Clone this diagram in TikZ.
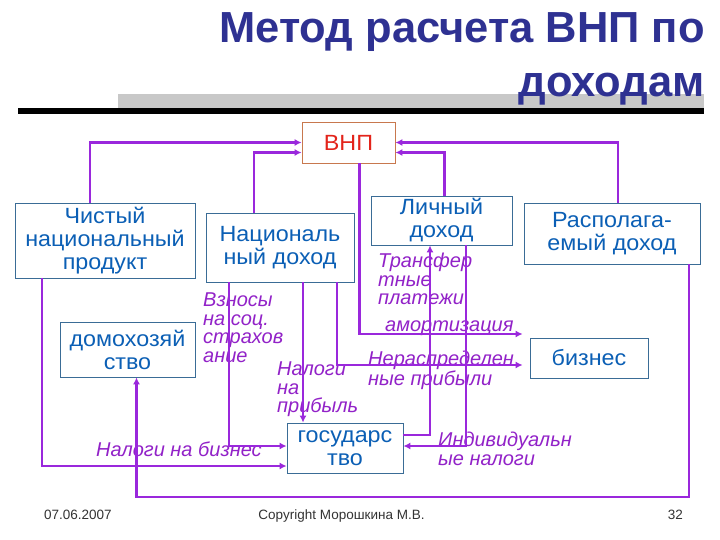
\documentclass[tikz,border=0pt]{standalone}
\usepackage{fontspec}
\setmainfont{Liberation Sans}
\newfontfamily\boxfont[FakeStretch=1.06]{Liberation Sans}
\usetikzlibrary{arrows.meta,calc,positioning}
\definecolor{navy}{HTML}{2E3192}
\definecolor{boxline}{HTML}{3A6C96}
\definecolor{boxtext}{HTML}{0B5FB5}
\definecolor{lilac}{HTML}{9A28DC}
\definecolor{lilacdark}{HTML}{9222C8}
\definecolor{gnpred}{HTML}{E3241B}
\definecolor{gnpline}{HTML}{C8784E}
\definecolor{bargrey}{HTML}{C8C8C8}
\definecolor{footgrey}{HTML}{333333}

\begin{document}
\begin{tikzpicture}[x=1pt,y=-1pt,>={Latex[length=7pt,width=7pt]},
  box/.style={draw=boxline,line width=0.8pt,fill=white,text=boxtext,align=center,inner sep=0pt,font=\boxfont\fontsize{22}{23}\selectfont},
  link/.style={lilac,line width=2.7pt},
  note/.style={text=lilacdark,align=left,inner sep=0pt,font=\fontsize{20}{18.5}\selectfont\itshape},
  foot/.style={text=footgrey,inner sep=0pt,font=\fontsize{13.5}{15}\selectfont}]
\path[fill=white,use as bounding box] (0,0) rectangle (720,540);
% header
\fill[bargrey] (118,94) rectangle (704,108);
\fill[black] (18,108) rectangle (704,114);
\node[anchor=base east,text=navy,inner sep=0pt,font=\fontsize{43.5}{50}\selectfont\bfseries] (title1) at (705,43) {Метод расчета ВНП по};
\node[anchor=base east,text=navy,inner sep=0pt,font=\fontsize{43.5}{50}\selectfont\bfseries] (title2) at (705,97) {доходам};
% boxes
\node[box,draw=gnpline,text=gnpred,minimum width=93,minimum height=41] (vnp) at (348.5,142.5) {ВНП};
\node[box,minimum width=180,minimum height=75] (chnp) at (105,240.5) {Чистый\\национальный\\продукт};
\node[box,minimum width=148,minimum height=69] (nd) at (280,247.5) {Националь\\ный доход};
\node[box,minimum width=141,minimum height=49] (ld) at (441.5,220.5) {Личный\\доход};
\node[box,minimum width=176,minimum height=61] (rd) at (612,233.5) {Располага-\\емый доход};
\node[box,minimum width=135,minimum height=55] (home) at (127.5,349.5) {домохозяй\\ство};
\node[box,minimum width=118,minimum height=40] (biz) at (589,358) {бизнес};
\node[box,minimum width=116,minimum height=50] (gov) at (345,448) {государс\\тво};
% labels
\node[note,anchor=north west] (transfer) at (378,253) {Трансфер\\тные\\платежи};
\node[note,anchor=base west] (amort) at (385,331) {амортизация};
\node[note,anchor=north west] (retained) at (368,351) {Нераспределен\\ные прибыли};
\node[note,anchor=north west] (proftax) at (277,362) {Налоги\\на\\прибыль};
\node[note,anchor=north west] (social) at (203,293) {Взносы\\на соц.\\страхов\\ание};
\node[note,anchor=base west] (biztax) at (96,456) {Налоги на бизнес};
\node[note,anchor=north west] (indtax) at (438,432) {Индивидуальн\\ые налоги};
% flows
\draw[link,->] ([xshift=-15pt]chnp.north) |- (vnp.west);
\draw[link,->] ([xshift=-26pt]nd.north) |- ([yshift=-10pt]vnp.west);
\draw[link,->] ([xshift=3pt]ld.north) |- ([yshift=-10pt]vnp.east);
\draw[link,->] ([xshift=6pt]rd.north) |- (vnp.east);
\draw[link,->] ([xshift=11pt]vnp.south) |- ([xshift=-7pt,yshift=24pt]biz.west);
\draw[link,->] ([xshift=57pt]nd.south) |- ([xshift=-7pt,yshift=-7pt]biz.west);
\draw[link,->] ([xshift=23pt]nd.south) -- ([xshift=-42pt]gov.north);
\draw[link,->] ([xshift=-51pt]nd.south) |- ([yshift=2pt]gov.west);
\draw[link,->] ([xshift=-63pt]chnp.south) |- ([yshift=-18pt]gov.west);
\coordinate (corner) at (136.5,497);
\draw[link,->] ([xshift=77pt]rd.south) |- (corner) -- ([xshift=9pt]home.south);
\draw[link,->] ([yshift=13pt]gov.east) -| ([xshift=-11.5pt]ld.south);
\draw[link,->] ([xshift=24.5pt]ld.south) |- ([yshift=2pt]gov.east);
% footer
\node[foot,anchor=base west] (date) at (44,519) {07.06.2007};
\node[foot,anchor=base] (copy) at (341.5,519) {Copyright Морошкина М.В.};
\node[foot,anchor=base east] (page) at (683,519) {32};
\end{tikzpicture}
\end{document}
